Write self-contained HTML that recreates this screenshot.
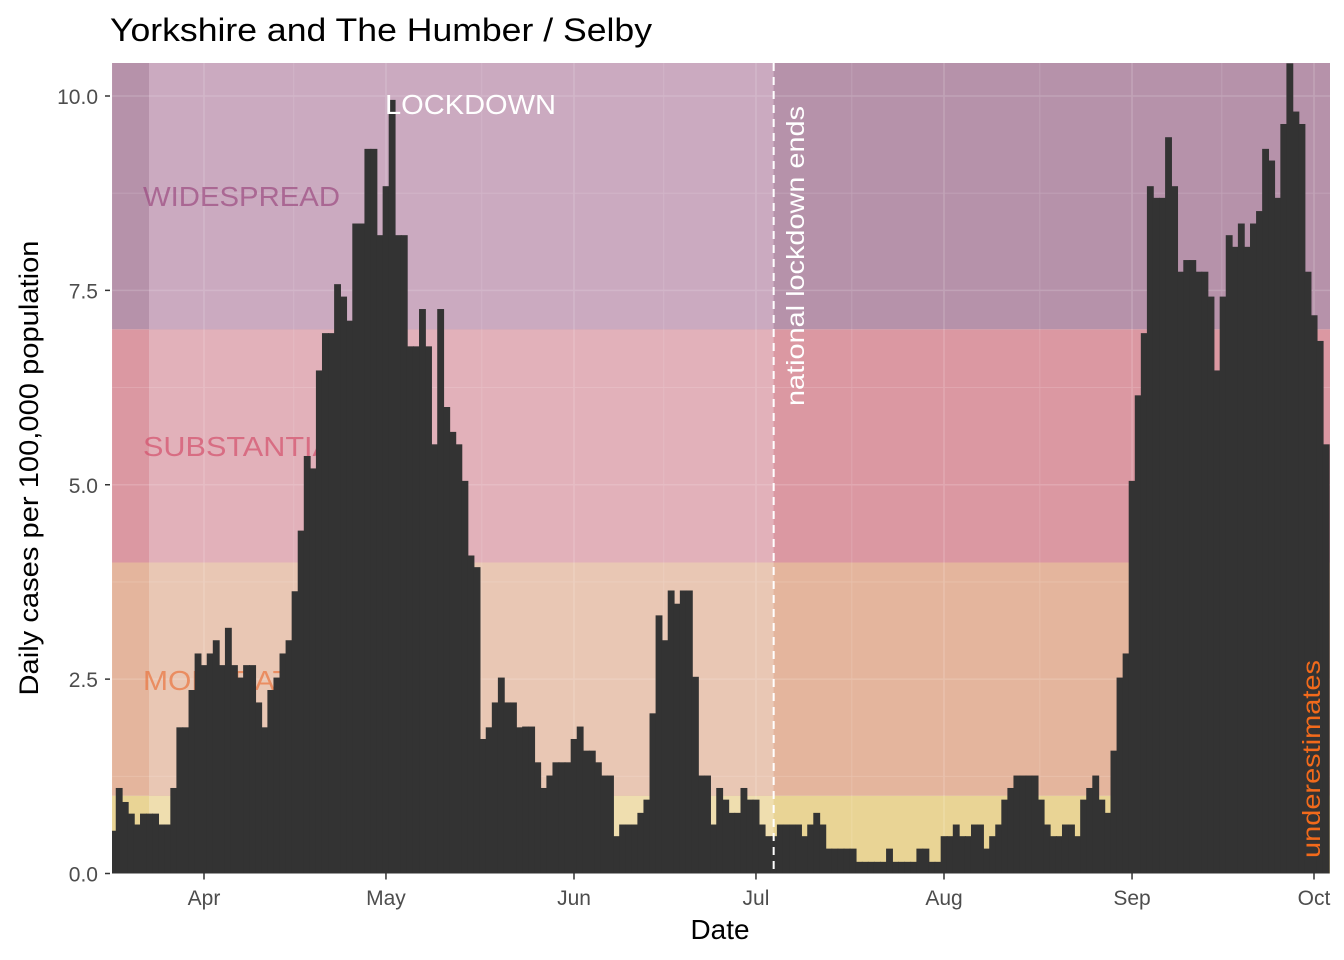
<!DOCTYPE html>
<html><head><meta charset="utf-8"><style>
html,body{margin:0;padding:0;background:#fff;}
svg{display:block;font-family:"Liberation Sans",Arial,sans-serif;}
</style></head><body>
<svg id="chart" width="1344" height="960" viewBox="0 0 1344 960" xmlns="http://www.w3.org/2000/svg"></svg>
<script>
// ---- data ----
const startDate = "2020-03-17";
const cases = [
0.55,1.10,0.92,0.77,0.63,0.77,0.77,0.77,0.63,0.63,1.10,1.88,1.88,2.36,2.83,2.68,2.83,3.0,2.68,3.16,2.68,2.52,2.68,2.68,2.2,1.88,2.36,2.52,2.83,3.0,3.63,4.41,5.37,5.21,
6.47,6.95,6.95,7.58,7.42,7.11,8.36,8.36,9.32,9.32,8.21,8.84,9.95,8.21,8.21,6.78,6.78,7.26,6.78,5.52,7.26,6.0,5.68,5.52,5.05,4.09,3.94,1.73,1.88,2.2,2.52,2.2,2.2,1.88,
1.89,1.89,1.43,1.1,1.26,1.43,1.43,1.43,1.73,1.89,1.58,1.58,1.43,1.26,1.26,0.48,0.63,0.63,0.63,0.78,0.95,2.06,3.32,3.0,3.64,3.47,3.64,3.64,2.53,1.26,1.26,0.63,1.1,
0.95,0.78,0.78,1.1,0.95,0.95,0.63,0.48,0.48,0.63,0.63,0.63,0.63,0.48,0.63,0.78,0.63,0.32,0.32,0.32,0.32,0.32,0.15,0.15,0.15,0.15,0.15,0.32,0.15,0.15,0.15,0.15,0.32,0.32,0.15,0.15,
0.48,0.48,0.63,0.48,0.48,0.63,0.63,0.32,0.48,0.63,0.95,1.1,1.26,1.26,1.26,1.26,0.95,0.63,0.48,0.48,0.63,0.63,0.48,0.95,1.1,1.26,0.95,0.78,1.58,
2.52,2.83,5.05,6.15,6.95,8.84,8.69,8.69,9.47,8.84,7.74,7.89,7.89,7.74,7.74,7.42,6.47,7.42,8.21,8.06,8.36,8.06,8.36,8.52,9.32,9.17,8.69,9.64,10.42,9.8,9.64,7.74,7.18,6.85,5.52
];
const yTicks = [0, 2.5, 5, 7.5, 10];
const yTickLabels = ["0.0","2.5","5.0","7.5","10.0"];
const monthTicks = ["2020-04-01","2020-05-01","2020-06-01","2020-07-01","2020-08-01","2020-09-01","2020-10-01"];
const monthLabels = ["Apr","May","Jun","Jul","Aug","Sep","Oct"];
const bandLimits = [0, 1, 4, 7, 10.5];
const bandNames = ["low","moderate","substantial","widespread"];
const lockdownStart = "2020-03-23";
const lockdownEnd = "2020-07-04";

// ---- scales ----
const L=112, R=1330, T=63, B=873.5;
const DAY=86400000, t0=Date.parse(startDate);
const pxPerDay = (1314-204)/183;
function dayIdx(d){return Math.round((Date.parse(d)-t0)/DAY);}
function xs(i){return 204 + (i - dayIdx("2020-04-01"))*pxPerDay;}
function ys(v){return B - v*77.75;}

const svg=document.getElementById('chart');
const NS="http://www.w3.org/2000/svg";
function el(tag,attrs,parent){const e=document.createElementNS(NS,tag);for(const k in attrs)e.setAttribute(k,attrs[k]);(parent||svg).appendChild(e);return e;}

const defs=el('defs',{});
const cp=el('clipPath',{id:'pc'},defs);
el('rect',{x:L,y:T,width:R-L,height:B-T},cp);

const panel=el('rect',{x:L,y:T,width:R-L,height:B-T,fill:'#ebebeb'});



function drawGrid(parent){
  for(let k=0;k<yTicks.length;k++){
    el('line',{x1:L,x2:R,y1:ys(yTicks[k]),y2:ys(yTicks[k]),stroke:'#fff','stroke-width':1.6},parent);
    el('line',{x1:L,x2:R,y1:ys(yTicks[k]+1.25),y2:ys(yTicks[k]+1.25),stroke:'#fff','stroke-width':0.8},parent);
  }
  for(let k=0;k<monthTicks.length;k++){
    const x=xs(dayIdx(monthTicks[k]));
    el('line',{x1:x,x2:x,y1:T,y2:B,stroke:'#fff','stroke-width':1.6},parent);
    el('line',{x1:x-pxPerDay*15.2,x2:x-pxPerDay*15.2,y1:T,y2:B,stroke:'#fff','stroke-width':0.8},parent);
  }
}
const grid=el('g',{'clip-path':'url(#pc)'});


drawGrid(grid);

// bands
const darkCols=["#e8d28e","#e3b097","#d9919c","#b28ba5"];
const lightCols=["#efdfb0","#eac8b6","#e2b3bb","#ccacc2"];
const bands=el('g',{'clip-path':'url(#pc)'});


const lx1=149, lx2=xs(dayIdx(lockdownEnd))-0.5;
for(let k=0;k<bandNames.length;k++){
  const y1=ys(bandLimits[k+1]), y2=ys(bandLimits[k]);
  const r1=el('rect',{x:L,y:y1,width:R-L,height:y2-y1,fill:darkCols[k],opacity:0.93},bands);
  
  
  const r2=el('rect',{x:lx1,y:y1,width:lx2-lx1,height:y2-y1,fill:lightCols[k],opacity:0.93},bands);
  
  
}
const grid2=el('g',{'clip-path':'url(#pc)',opacity:0.15});
drawGrid(grid2);

function txt(s,attrs,name){const t=el('text',attrs);t.textContent=s;return t;}
txt("WIDESPREAD",{x:143,y:206,'font-size':28,fill:'#9b4a80','fill-opacity':0.7,textLength:197,lengthAdjust:'spacingAndGlyphs'},'label-widespread');
txt("SUBSTANTIAL",{x:143,y:456,'font-size':28,fill:'#d4506c','fill-opacity':0.7,textLength:207,lengthAdjust:'spacingAndGlyphs'},'label-substantial');
txt("MODERATE",{x:143,y:690,'font-size':28,fill:'#ea7a45','fill-opacity':0.75,textLength:168,lengthAdjust:'spacingAndGlyphs'},'label-moderate');

// bars
const bars=el('g',{'clip-path':'url(#pc)'});


for(let i=0;i<cases.length;i++){
  const x=xs(i)-pxPerDay/2, y=ys(cases[i]);
  const b=el('rect',{x:x-0.3,y:y,width:pxPerDay+0.8,height:B-y,fill:'#333333'},bars);
  
  
}

txt("LOCKDOWN",{x:385,y:114,'font-size':28,fill:'#ffffff',textLength:171,lengthAdjust:'spacingAndGlyphs'},'label-lockdown');
const ldx=xs(dayIdx(lockdownEnd));
const dl=el('line',{x1:ldx-0.5,x2:ldx-0.5,y1:T,y2:B,stroke:'#fff','stroke-width':2,'stroke-dasharray':'8,6'});


txt("national lockdown ends",{x:0,y:0,'font-size':25,fill:'#fff',transform:'translate(804,406) rotate(-90)',textLength:300,lengthAdjust:'spacingAndGlyphs'},'label-lockdown-ends');
txt("underestimates",{x:0,y:0,'font-size':25,fill:'#f26a1b',transform:'translate(1320,858) rotate(-90)',textLength:198,lengthAdjust:'spacingAndGlyphs'},'label-underestimates');

const ax=el('g',{});


for(let k=0;k<yTicks.length;k++){
  const y=ys(yTicks[k]);
  el('line',{x1:105,x2:110,y1:y,y2:y,stroke:'#333','stroke-width':1.5},ax);
  const t=el('text',{x:98,y:y+8,'font-size':21,fill:'#4d4d4d','text-anchor':'end'},ax);
  t.textContent=yTickLabels[k];
  
  
}
const axx=el('g',{});


for(let k=0;k<monthTicks.length;k++){
  const x=xs(dayIdx(monthTicks[k]));
  el('line',{x1:x,x2:x,y1:B,y2:B+6,stroke:'#333','stroke-width':1.5},axx);
  const t=el('text',{x:x,y:905,'font-size':21,fill:'#4d4d4d','text-anchor':'middle'},axx);
  t.textContent=monthLabels[k];
  
  
}
txt("Date",{x:720,y:939,'font-size':28,fill:'#000','text-anchor':'middle',textLength:59,lengthAdjust:'spacingAndGlyphs'},'x-axis-title');
txt("Daily cases per 100,000 population",{x:0,y:0,'font-size':27,fill:'#000','text-anchor':'middle',transform:'translate(38,468) rotate(-90)',textLength:455,lengthAdjust:'spacingAndGlyphs'},'y-axis-title');
txt("Yorkshire and The Humber / Selby",{x:110,y:41,'font-size':32,fill:'#000',textLength:542,lengthAdjust:'spacingAndGlyphs'},'chart-title');
</script>
</body></html>
